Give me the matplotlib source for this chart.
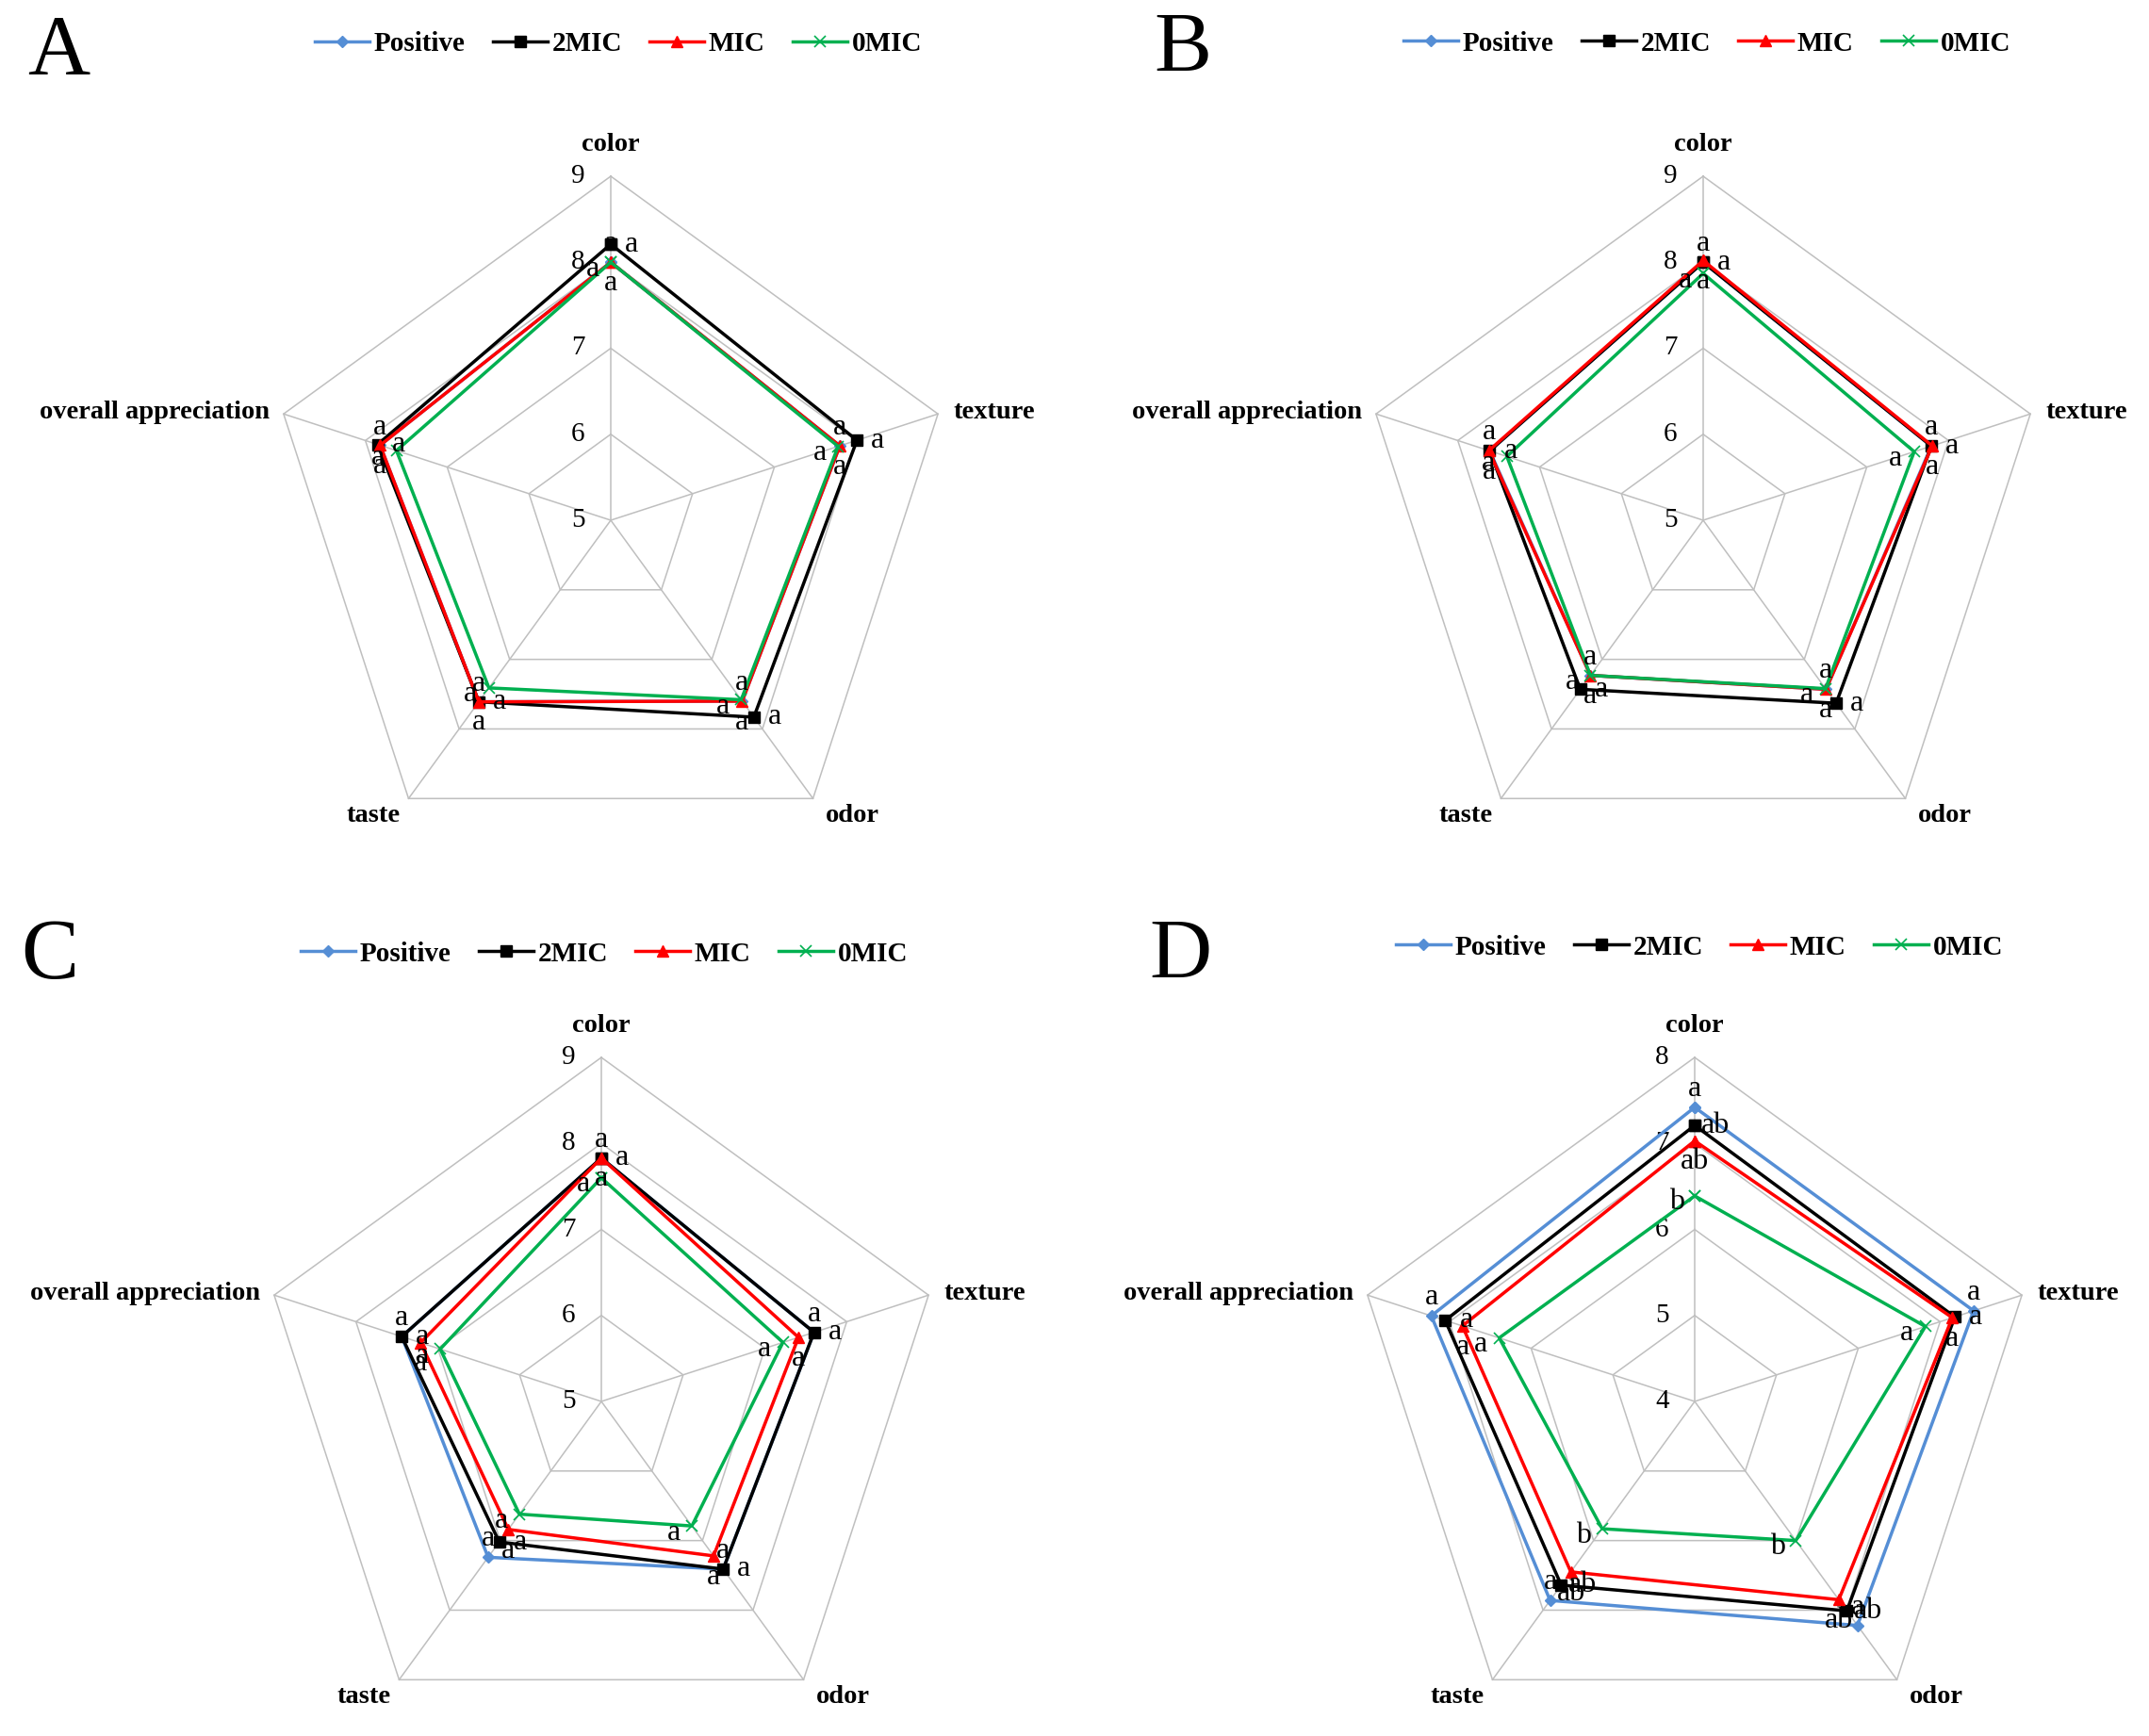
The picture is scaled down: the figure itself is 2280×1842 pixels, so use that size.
import numpy as np
import matplotlib
matplotlib.use("Agg")
import matplotlib.pyplot as plt
from matplotlib.lines import Line2D

plt.rcParams['font.family'] = ['Liberation Serif', 'DejaVu Serif']

categories = ['color', 'texture', 'odor', 'taste', 'overall appreciation']
series_names = ['Positive', '2MIC', 'MIC', '0MIC']

# sensory scores, order of categories above
A_positive = [8.00, 7.80, 7.60, 7.61, 7.82]
A_2mic = [8.21, 8.01, 7.83, 7.61, 7.85]
A_mic = [8.00, 7.80, 7.60, 7.61, 7.82]
A_0mic = [8.00, 7.78, 7.58, 7.41, 7.62]

B_positive = [8.00, 7.79, 7.43, 7.23, 7.61]
B_2mic = [8.00, 7.79, 7.63, 7.43, 7.61]
B_mic = [8.02, 7.80, 7.43, 7.23, 7.62]
B_0mic = [7.87, 7.58, 7.42, 7.23, 7.40]

C_positive = [7.83, 7.60, 7.41, 7.24, 7.44]
C_2mic = [7.83, 7.60, 7.41, 7.02, 7.44]
C_mic = [7.83, 7.41, 7.22, 6.84, 7.21]
C_0mic = [7.60, 7.22, 6.79, 6.62, 6.97]

D_positive = [7.42, 7.41, 7.22, 6.86, 7.22]
D_2mic = [7.21, 7.18, 7.01, 6.64, 7.05]
D_mic = [7.03, 7.15, 6.85, 6.45, 6.84]
D_0mic = [6.39, 6.82, 6.00, 5.83, 6.39]

# significance letters [series][category]
A_letters = [['a'] * 5] * 4
B_letters = [['a'] * 5] * 4
C_letters = [['a'] * 5] * 4
D_letters = [['a', 'a', 'a', 'a', 'a'],
             ['ab', 'a', 'ab', 'ab', 'a'],
             ['ab', 'a', 'ab', 'ab', 'a'],
             ['b', 'a', 'b', 'b', 'a']]

A_ticks = [5, 6, 7, 8, 9]
D_ticks = [4, 5, 6, 7, 8]

panels = [
    ('A', [A_positive, A_2mic, A_mic, A_0mic], A_letters, A_ticks, (648, 552), (656, 47), (62, 57)),
    ('B', [B_positive, B_2mic, B_mic, B_0mic], B_letters, A_ticks, (1807, 552), (1811, 46), (1255, 54)),
    ('C', [C_positive, C_2mic, C_mic, C_0mic], C_letters, A_ticks, (638, 1487), (641, 1012), (53, 1016)),
    ('D', [D_positive, D_2mic, D_mic, D_0mic], D_letters, D_ticks, (1798, 1487), (1803, 1005), (1252, 1016)),
]

colors = ['#558ED5', 'black', '#FF0000', '#00B050']
markers = ['D', 's', '^', 'x']
msizes = [6, 9, 9, 8]
letter_offsets = [(0, 14), (16, 0), (0, -16), (-14, -5)]

W, H = 2280, 1842
R = 365
fig = plt.figure(figsize=(W / 100, H / 100), dpi=100)

angles = np.linspace(0, 2 * np.pi, len(categories), endpoint=False)
closed = np.append(angles, angles[0])
cat_offsets = [((0, 24), 'center'), ((12, 1), 'left'), ((30, -13), 'center'),
               ((-27, -13), 'center'), ((-11, 1), 'right')]

for name, data, letters, ticks, (cx, cy), (lx, ly), (px, py) in panels:
    ax = fig.add_axes([(cx - R) / W, 1 - (cy + R) / H, 2 * R / W, 2 * R / H],
                      projection='polar')
    ax.set_theta_offset(np.pi / 2)
    ax.set_theta_direction(-1)
    ax.set_ylim(ticks[0], ticks[-1])
    ax.set_xticks([])
    ax.set_yticks([])
    ax.spines['polar'].set_visible(False)
    ax.grid(False)

    for lev in ticks[1:]:
        ax.plot(closed, [lev] * len(closed), color='#BFBFBF', lw=1.1, clip_on=False, zorder=1)
    for a in angles:
        ax.plot([a, a], [ticks[0], ticks[-1]], color='#BFBFBF', lw=1.1, clip_on=False, zorder=1)
    for lev in ticks:
        ax.annotate(str(lev), xy=(0, lev), xytext=(-25, 0), textcoords='offset points',
                    ha='center', va='center', fontsize=21, annotation_clip=False)

    for a, cat, (off, ha) in zip(angles, categories, cat_offsets):
        ax.annotate(cat, xy=(a, ticks[-1]), xytext=off, textcoords='offset points',
                    ha=ha, va='center', fontsize=20.5, fontweight='bold', annotation_clip=False)

    for i, vals in enumerate(data):
        ax.plot(closed, np.append(vals, vals[0]), color=colors[i], lw=2.5,
                marker=markers[i], ms=msizes[i], mew=1.2 if markers[i] == 'x' else 1,
                zorder=3 + i, clip_on=False)
        for j, a in enumerate(angles):
            ax.annotate(letters[i][j], xy=(a, vals[j]), xytext=letter_offsets[i],
                        textcoords='offset points', ha='center', va='center',
                        fontsize=23, zorder=10, annotation_clip=False)

    handles = [Line2D([], [], color=colors[i], lw=2.5, marker=markers[i], ms=msizes[i],
                      mew=1.2 if markers[i] == 'x' else 1) for i in range(4)]
    fig.legend(handles, series_names, loc='center', bbox_to_anchor=(lx / W, 1 - ly / H),
               ncol=4, frameon=False, handlelength=2.0, handletextpad=0.15,
               columnspacing=1.0, prop={'weight': 'bold', 'size': 21})
    fig.text(px / W, 1 - py / H, name, fontsize=66, ha='center', va='center')

fig.savefig('out.png', dpi=100)
